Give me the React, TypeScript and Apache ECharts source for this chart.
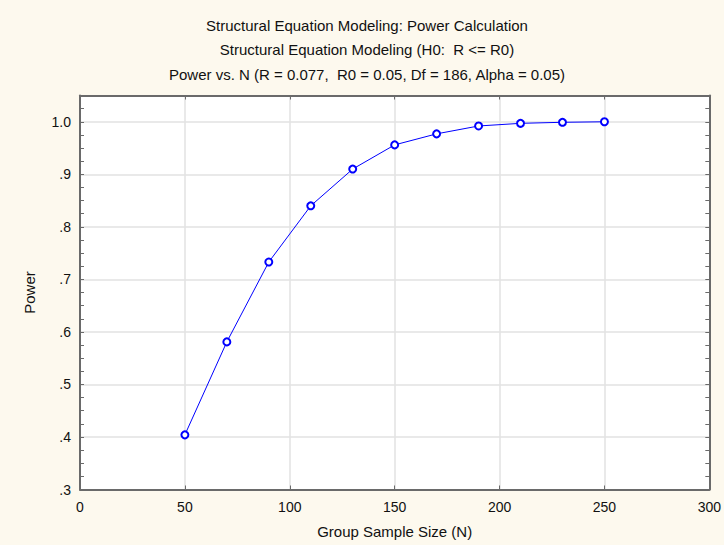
import React, { useEffect, useRef } from "react";
import * as echarts from "echarts";

const titleLines = [
  "Structural Equation Modeling: Power Calculation",
  "Structural Equation Modeling (H0:  R <= R0)",
  "Power vs. N (R = 0.077,  R0 = 0.05, Df = 186, Alpha = 0.05)",
];
const sampleSizes = [50, 70, 90, 110, 130, 150, 170, 190, 210, 230, 250];
const powerValues = [0.404, 0.581, 0.733, 0.84, 0.91, 0.956, 0.977, 0.992, 0.997, 0.999, 1.0];
const xAxisName = "Group Sample Size (N)";
const yAxisName = "Power";

const FONT = "'Liberation Sans', Arial, sans-serif";
const FRAME = "#6a6a6a";
const GRIDLINE = "#e2e2e2";

function fmtY(v: number): string {
  const r = Math.round(v * 10);
  if (Math.abs(v * 10 - r) > 1e-6) return "";
  if (r === 10) return "1.0";
  return "." + r;
}

export default function App() {
  const ref = useRef<HTMLDivElement>(null);
  useEffect(() => {
    if (!ref.current) return;
    const chart = echarts.init(ref.current, null, { renderer: "svg" });
    const tickStyle = { show: true, inside: true, length: 4, lineStyle: { color: FRAME, width: 1 } };
    const titleY = [25.5, 49.5, 74];
    chart.setOption({
      animation: false,
      backgroundColor: "#FDF9EE",
      graphic: titleLines.map((t, i) => ({
        type: "text",
        x: 367,
        y: titleY[i],
        style: {
          text: t,
          textAlign: "center",
          textVerticalAlign: "middle",
          fontFamily: FONT,
          fontSize: 15,
          fill: "#111",
        },
      })),
      grid: {
        left: 80,
        right: 9,
        top: 95.5,
        bottom: 55.5,
        show: true,
        backgroundColor: "#ffffff",
        borderWidth: 0,
      },
      xAxis: [
        {
          type: "value",
          position: "bottom",
          min: 0,
          max: 300,
          interval: 50,
          name: xAxisName,
          nameLocation: "middle",
          nameGap: 34,
          nameTextStyle: { fontFamily: FONT, fontSize: 15, color: "#111" },
          axisLine: { show: true, lineStyle: { color: FRAME, width: 2 } },
          axisTick: tickStyle,
          axisLabel: { fontFamily: FONT, fontSize: 14, color: "#111", margin: 10 },
          splitLine: { show: true, lineStyle: { color: GRIDLINE, width: 1.5 } },
        },
        {
          type: "value",
          position: "top",
          min: 0,
          max: 300,
          interval: 50,
          axisLine: { show: true, lineStyle: { color: FRAME, width: 2 } },
          axisTick: tickStyle,
          axisLabel: { show: false },
          splitLine: { show: false },
        },
      ],
      yAxis: [
        {
          type: "value",
          position: "left",
          min: 0.3,
          max: 1.05,
          interval: 0.1,
          name: yAxisName,
          nameLocation: "middle",
          nameGap: 43,
          nameTextStyle: { fontFamily: FONT, fontSize: 15, color: "#111" },
          axisLine: { show: true, lineStyle: { color: FRAME, width: 2 } },
          axisTick: { show: false },
          axisLabel: { fontFamily: FONT, fontSize: 14, color: "#111", margin: 9, formatter: fmtY, showMaxLabel: false },
          splitLine: { show: true, lineStyle: { color: GRIDLINE, width: 1.5 } },
        },
        {
          type: "value",
          position: "left",
          min: 0.3,
          max: 1.05,
          interval: 0.025,
          axisLine: { show: false },
          axisTick: tickStyle,
          axisLabel: { show: false },
          splitLine: { show: false },
        },
        {
          type: "value",
          position: "right",
          min: 0.3,
          max: 1.05,
          interval: 0.025,
          axisLine: { show: true, lineStyle: { color: FRAME, width: 2 } },
          axisTick: tickStyle,
          axisLabel: { show: false },
          splitLine: { show: false },
        },
      ],
      series: [
        {
          type: "line",
          xAxisIndex: 0,
          yAxisIndex: 0,
          data: sampleSizes.map((n, i) => [n, powerValues[i]]),
          symbol: "circle",
          symbolSize: 7,
          itemStyle: { color: "#ffffff", borderColor: "#0000ff", borderWidth: 2 },
          lineStyle: { color: "#0000ff", width: 1 },
        },
      ],
    });
    return () => chart.dispose();
  }, []);
  return <div ref={ref} style={{ width: 724, height: 545, position: "absolute", left: 0, top: 0 }} />;
}
